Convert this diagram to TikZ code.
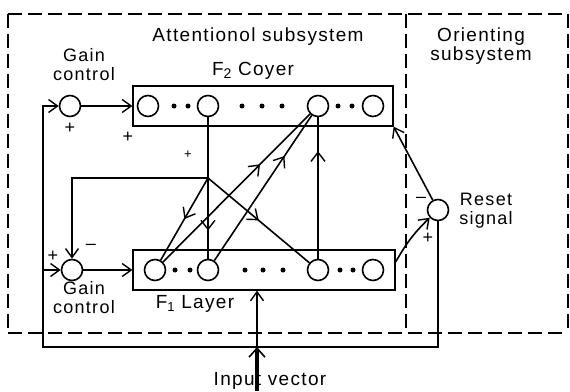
\documentclass[tikz,border=0pt]{standalone}
\usepackage{fontspec}
\setmainfont{Liberation Sans}[LetterSpace=7]
\usetikzlibrary{arrows.meta,decorations.markings,calc}
\begin{document}
\begin{tikzpicture}[x=1pt,y=-1pt,
  ln/.style={line width=1.6pt},
  tip/.style={-{Straight Barb[length=9pt,width=13pt,line width=1.4pt]}},
  neuron/.style={circle,draw,line width=1.6pt,minimum size=21pt,inner sep=0pt},
  layer/.style={draw,line width=1.3pt,minimum height=40pt,inner sep=0pt},
  lbl/.style={font=\fontsize{19}{19}\selectfont,inner sep=0pt,align=center},
  lbl2/.style={font=\fontsize{18}{19}\selectfont,inner sep=0pt,align=center},
  sign/.style={font=\fontsize{18}{20}\selectfont,inner sep=0pt},
  midtip/.style={postaction={decorate},decoration={markings,mark=at position #1 with {\arrow{Straight Barb[length=9pt,width=14pt,line width=1.4pt]}}}},
  frame/.style={line width=1.8pt,dash pattern=on 14pt off 6pt}
]
\useasboundingbox (0,0) rectangle (570,391);

% frame
\draw[frame] (8,14) -- (568,14);
\draw[frame] (8,333) -- (568,333);
\draw[frame] (8,14) -- (8,333);
\draw[frame] (568,14) -- (568,333);
\draw[frame] (406,14) -- (406,333);

% layers
\node[layer,minimum width=260pt] (F2) at (263,106) {};
\node[layer,minimum width=262pt] (F1) at (264,270) {};

\node[neuron] (F2a) at (148,106) {};
\node[neuron] (F2b) at (208,106) {};
\node[neuron] (F2c) at (318,106) {};
\node[neuron] (F2d) at (373,106) {};
\node[neuron] (F1a) at (155,270) {};
\node[neuron] (F1b) at (208,270) {};
\node[neuron] (F1c) at (318,270) {};
\node[neuron] (F1d) at (373,270) {};
\node[neuron] (gcTop) at (70,106) {};
\node[neuron] (gcBot) at (72,270) {};
\node[neuron] (reset) at (438,210) {};

\foreach \x in {174,188,242,262,282,338,352} \fill (\x,106) circle (2.5pt);
\foreach \x in {175,190,245,263,283,340,353} \fill (\x,270) circle (2.5pt);

% coordinates
\coordinate (fbBot) at (43,347);
\coordinate (J) at (257,347);
\coordinate (inBot) at (257,391);
\coordinate (gBranch) at (208,178);

% gain control connections
\draw[ln,tip] (gcTop) -- (F2.west |- gcTop);
\draw[ln,tip] (gcBot) -- (F1.west |- gcBot);
\draw[ln,tip] (reset.south) |- (fbBot) |- (gcTop.west);
\draw[ln,tip] (fbBot |- gcBot) -- (gcBot.west);
\draw[ln,tip] (gBranch) -| (gcBot.north);

% input
\draw[line width=3.5pt,-{Straight Barb[length=9pt,width=16pt,line width=1.6pt]}] (inBot) -- (J);
\draw[ln,tip] (J) -- (J |- F1.south);

% top-down
\draw[ln,midtip=0.8] (F2b) -- (F1b);
\draw[ln,midtip=0.5] (gBranch) -- (F1a);
\draw[ln,midtip=0.5] (gBranch) -- (F1c);

% bottom-up
\draw[ln,midtip=0.66] (F1a) -- (F2c);
\draw[ln,midtip=0.72] (F1b) -- (F2c);
\draw[ln,midtip=0.76] (F1c) -- (F2c);

% reset
\draw[ln,tip] (reset) -- (F2.south east);
\draw[ln,tip] ([yshift=8pt]F1.east) to[bend left=8] (reset);

% labels
\node[lbl] (tAtt) at (258,37) {Attentionol subsystem};
\node[lbl] (tOri) at (481,46) {Orienting\\subsystem};
\node[lbl2] (tGc) at (84,65) {Gain\\control};
\node[lbl] (tF2) at (253,71) {F\raisebox{-3pt}{\fontsize{14}{15}\selectfont 2} Coyer};
\node[lbl2] (tRs) at (486,211) {Reset\\signal};
\node[lbl2] (tGb) at (84,298) {Gain\\control};
\node[lbl] (tF1) at (195,304) {F\raisebox{-3pt}{\fontsize{13}{15}\selectfont 1} Layer};
\node[lbl] (tIn) at (270,381) {Input vector};

% signs
\node[sign] (s1) at (70,128) {+};
\node[sign] (s2) at (128,137) {+};
\node[sign,font=\fontsize{13}{14}\selectfont] (s3) at (188,155) {+};
\node[sign] (s4) at (53,256) {+};
\node[sign] (s5) at (91,247) {\textendash};
\node[sign] (s6) at (421,200) {\textendash};
\node[sign] (s7) at (428,238) {+};
\end{tikzpicture}
\end{document}
